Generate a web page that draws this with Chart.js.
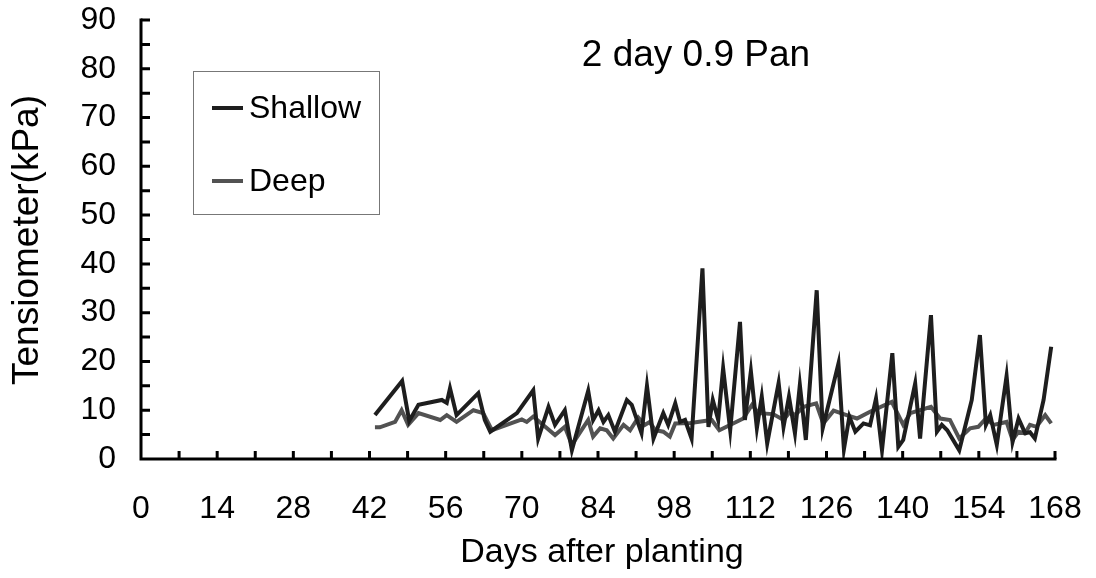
<!DOCTYPE html>
<html>
<head>
<meta charset="utf-8">
<script src="https://cdn.jsdelivr.net/npm/chart.js@4/dist/chart.umd.min.js"></script>
<style>
html,body{margin:0;padding:0;background:#fff;}
#wrap{width:1096px;height:578px;position:relative;}
</style>
</head>
<body>
<div id="wrap"><canvas id="c" width="1096" height="578"></canvas></div>
<script>
const chartTitle = "2 day 0.9 Pan";
const xAxisTitle = "Days after planting";
const yAxisTitle = "Tensiometer(kPa)";
const seriesNames = ["Shallow", "Deep"];
const xTicks = [0, 14, 28, 42, 56, 70, 84, 98, 112, 126, 140, 154, 168];
const yTicks = [0, 10, 20, 30, 40, 50, 60, 70, 80, 90];

const shallowDays = [43.0,48.0,49.3,51.0,55.3,56.2,56.8,58.0,62.0,63.2,64.2,69.1,72.1,73.0,74.9,76.1,77.9,79.2,82.2,83.1,84.1,85.0,85.9,87.1,89.3,90.2,92.0,93.0,94.2,96.0,96.9,98.2,99.1,100.0,101.2,103.2,104.3,105.1,106.1,107.0,108.3,110.1,111.0,112.1,113.2,114.1,115.1,117.2,118.1,119.1,120.2,121.1,122.2,124.2,125.3,128.2,129.2,130.2,131.3,132.8,134.0,135.1,136.2,138.1,139.2,140.1,142.3,143.2,145.2,146.3,147.2,148.2,150.4,152.7,154.2,155.3,156.1,157.3,159.1,160.2,161.3,162.5,163.4,164.3,165.9,167.3];
const shallowValues = [9.0,16.0,7.8,11.1,12.1,11.5,14.5,9.0,13.5,8.0,5.6,9.4,14.1,4.2,10.7,7.0,10.0,1.8,14.0,8.0,10.0,7.6,9.0,5.6,12.1,11.1,5.3,15.0,4.2,9.4,7.0,11.4,7.6,8.0,4.2,39.1,6.6,12.1,8.0,18.6,5.9,28.1,8.0,18.0,6.3,12.8,3.2,15.6,6.6,12.8,5.3,15.2,3.9,34.6,6.3,19.6,2.0,8.7,5.6,7.3,6.9,12.4,1.8,21.7,2.5,3.9,15.5,4.2,29.5,5.6,7.0,5.9,1.8,12.1,25.4,7.0,9.0,2.9,17.0,3.5,8.3,5.3,5.5,4.2,12.1,23.0];

const deepDays = [43.0,43.9,46.7,47.9,49.1,51.0,55.0,56.2,58.0,61.1,62.9,64.5,70.0,70.9,72.1,74.3,76.1,77.9,79.2,82.2,83.1,84.4,85.6,86.8,88.7,89.9,91.4,92.6,93.5,94.5,96.0,97.2,98.2,101.0,104.9,106.3,110.7,112.3,113.5,116.2,118.1,119.3,120.2,121.8,124.1,125.4,127.3,129.7,131.6,134.0,138.0,140.1,141.4,145.2,146.9,148.7,150.4,152.4,153.9,155.3,156.7,159.1,160.2,161.3,162.5,163.4,164.6,166.2,167.3];
const deepValues = [6.5,6.5,7.6,10.0,7.0,9.4,8.0,9.0,7.6,10.0,9.4,5.9,8.1,7.6,8.7,6.6,4.9,6.6,2.9,8.0,4.6,6.3,5.9,4.2,7.0,5.9,8.5,7.0,7.6,5.9,5.6,4.6,7.3,7.4,8.0,5.9,8.3,11.1,9.4,9.2,8.0,9.7,9.0,10.7,11.4,7.3,9.9,9.0,8.3,9.7,11.7,7.0,9.4,10.7,8.3,8.0,4.2,6.3,6.6,8.3,7.0,7.6,3.9,5.6,5.3,7.0,6.6,9.0,7.3];

const colors = ["#1e1e1e", "#525252"];
const FONT = "'Liberation Sans', Arial, sans-serif";

function pts(xs, ys){ return xs.map((x,i)=>({x:x, y:ys[i]})); }

function zeroPad(s){ s.paddingLeft = 0; s.paddingRight = 0; s.paddingTop = 0; s.paddingBottom = 0; }

const decor = {
  id: 'decor',
  afterDraw(chart){
    const ctx = chart.ctx, xs = chart.scales.x, ys = chart.scales.y, a = chart.chartArea;
    ctx.save();
    ctx.strokeStyle = '#000'; ctx.lineWidth = 3; ctx.lineCap = 'square';
    ctx.beginPath();
    ctx.moveTo(a.left, ys.getPixelForValue(90)); ctx.lineTo(a.left, a.bottom); ctx.lineTo(xs.getPixelForValue(168), a.bottom);
    ctx.stroke();
    ctx.lineCap = 'butt';
    ctx.beginPath();
    for (let d = 7; d <= 168; d += 7){ const p = xs.getPixelForValue(d); ctx.moveTo(p, a.bottom); ctx.lineTo(p, a.bottom - 8); }
    for (let v = 5; v <= 90; v += 5){ const p = ys.getPixelForValue(v); ctx.moveTo(a.left, p); ctx.lineTo(a.left + 9, p); }
    ctx.stroke();
    ctx.fillStyle = '#000';
    ctx.textAlign = 'center'; ctx.textBaseline = 'middle';
    ctx.font = "37px " + FONT;
    ctx.fillText(chartTitle, 696, 56);
    ctx.font = "34px " + FONT;
    ctx.fillText(xAxisTitle, 602, 553);
    ctx.save();
    ctx.font = "37px " + FONT;
    ctx.translate(28, 240); ctx.rotate(-Math.PI/2);
    ctx.fillText(yAxisTitle, 0, 0);
    ctx.restore();
    ctx.strokeStyle = '#777'; ctx.lineWidth = 1;
    ctx.strokeRect(193.5, 71.5, 186, 143);
    const rows = [108, 181];
    ctx.font = "32px " + FONT; ctx.textAlign = 'left';
    seriesNames.forEach((n,i)=>{
      ctx.strokeStyle = colors[i]; ctx.lineWidth = 4;
      ctx.beginPath(); ctx.moveTo(212, rows[i]); ctx.lineTo(243, rows[i]); ctx.stroke();
      ctx.fillStyle = '#000';
      ctx.fillText(n, 249, rows[i] + 1);
    });
    ctx.restore();
  }
};

new Chart(document.getElementById('c'), {
  type: 'line',
  data: {
    datasets: [
      { label: seriesNames[0], data: pts(shallowDays, shallowValues), borderColor: colors[0], borderWidth: 4, pointRadius: 0, tension: 0, fill: false },
      { label: seriesNames[1], data: pts(deepDays, deepValues), borderColor: colors[1], borderWidth: 4, pointRadius: 0, tension: 0, fill: false }
    ]
  },
  options: {
    responsive: false, animation: false,
    layout: { padding: { top: 20, right: 41, left: 0, bottom: 0 } },
    plugins: { legend: { display: false }, tooltip: { enabled: false }, title: { display: false } },
    scales: {
      x: {
        type: 'linear', min: 0, max: 168,
        afterBuildTicks(s){ s.ticks = xTicks.map(v=>({value:v})); },
        afterFit(s){ s.height = 119; zeroPad(s); },
        grid: { display: false, drawTicks: false },
        border: { display: false },
        ticks: { color: '#000', font: { family: FONT, size: 32 }, padding: 31, maxRotation: 0, autoSkip: false }
      },
      y: {
        type: 'linear', min: 0, max: 90,
        afterBuildTicks(s){ s.ticks = yTicks.map(v=>({value:v})); },
        afterFit(s){ s.width = 141; zeroPad(s); },
        grid: { display: false, drawTicks: false },
        border: { display: false },
        ticks: { color: '#000', font: { family: FONT, size: 32 }, padding: 25 }
      }
    }
  },
  plugins: [decor]
});
</script>
</body>
</html>
